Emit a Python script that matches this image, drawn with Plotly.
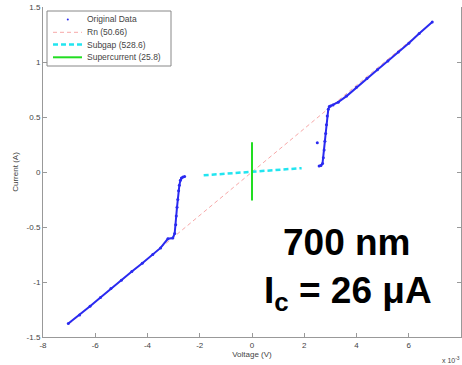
import plotly.graph_objects as go

# Voltage in units of 1e-3 V, current as displayed on axis
neg_v = [-7.03, -6.6, -6.2, -5.8, -5.4, -5.0, -4.6, -4.2, -3.8, -3.5, -3.22, -3.03,
         -2.96, -2.92, -2.9, -2.87, -2.84, -2.81, -2.78, -2.74, -2.70, -2.64, -2.58]
neg_i = [-1.378, -1.30, -1.22, -1.14, -1.06, -0.985, -0.905, -0.83, -0.75, -0.69, -0.607, -0.60,
         -0.56, -0.48, -0.40, -0.32, -0.25, -0.17, -0.12, -0.075, -0.055, -0.046, -0.042]
pos_v = [2.57, 2.64, 2.70, 2.73, 2.76, 2.79, 2.82, 2.85, 2.88, 2.92, 2.96, 3.0, 3.1,
         3.3, 3.62, 4.0, 4.4, 4.8, 5.2, 5.6, 6.0, 6.4, 6.9]
pos_i = [0.054, 0.06, 0.078, 0.13, 0.20, 0.28, 0.35, 0.43, 0.51, 0.57, 0.595, 0.60, 0.61,
         0.635, 0.69, 0.77, 0.85, 0.93, 1.01, 1.09, 1.17, 1.26, 1.363]
stray_v = [2.5]
stray_i = [0.267]

rn_v = [-7.0, 7.0]
rn_i = [-1.38, 1.38]
sub_v = [-1.85, 1.9]
sub_i = [-0.03, 0.035]
sc_v = [0.0, 0.0]
sc_i = [-0.26, 0.27]

legend_names = ["Original Data", "Rn (50.66)", "Subgap (528.6)", "Supercurrent (25.8)"]
xticks = [-8, -6, -4, -2, 0, 2, 4, 6, 8]
yticks = [-1.5, -1, -0.5, 0, 0.5, 1, 1.5]

BLUE = "#2a2af0"
PINK = "#f7a8a8"
CYAN = "#22e5f0"
GREEN = "#22dd22"
FONT = "Liberation Sans, Arial"
TXT = "#444444"
RN_DASH = "4px,3px"
SUB_DASH = "5px,3px"

fig = go.Figure()
fig.add_trace(go.Scatter(x=rn_v, y=rn_i, mode="lines", name=legend_names[1],
                         line=dict(color=PINK, width=1, dash=RN_DASH)))
for vx, iy in [(neg_v, neg_i), (pos_v, pos_i)]:
    fig.add_trace(go.Scatter(x=vx, y=iy, mode="lines", name=legend_names[0],
                             line=dict(color=BLUE, width=2), hoverinfo="skip"))
fig.add_trace(go.Scatter(x=neg_v + [None] + pos_v + [None] + stray_v,
                         y=neg_i + [None] + pos_i + [None] + stray_i,
                         mode="markers", name=legend_names[0],
                         marker=dict(color=BLUE, size=3)))
fig.add_trace(go.Scatter(x=sub_v, y=sub_i, mode="lines", name=legend_names[2],
                         line=dict(color=CYAN, width=2.5, dash=SUB_DASH)))
fig.add_trace(go.Scatter(x=sc_v, y=sc_i, mode="lines", name=legend_names[3],
                         line=dict(color=GREEN, width=2)))

axis_common = dict(showgrid=False, zeroline=False, showline=True, linecolor="#999999",
                   linewidth=1, ticks="inside", ticklen=4, tickcolor="#999999",
                   tickfont=dict(family=FONT, size=8, color=TXT))
fig.update_xaxes(range=[-8, 8], tickvals=xticks, ticktext=[str(t) for t in xticks],
                 title=dict(text="Voltage (V)", font=dict(family=FONT, size=8, color=TXT), standoff=2),
                 **axis_common)
fig.update_yaxes(range=[-1.5, 1.5], tickvals=yticks, ticktext=[("%g" % t) for t in yticks],
                 mirror="ticks",
                 title=dict(text="Current (A)", font=dict(family=FONT, size=8, color=TXT), standoff=6),
                 **axis_common)

# Manual legend (MATLAB-style compact box)
L, R, T, B = 43, 461, 7, 337
def px(x):
    return (x - L) / (R - L)
def py(y):
    return (B - y) / (B - T)

shapes = [dict(type="rect", xref="paper", yref="paper", x0=px(47), x1=px(171), y0=py(66), y1=py(11),
               line=dict(color="#888888", width=1), fillcolor="white", layer="above")]
rows = [19.5, 32.3, 44.6, 57.3]
styles = [None, dict(color=PINK, width=1, dash=RN_DASH), dict(color=CYAN, width=2.5, dash=SUB_DASH),
          dict(color=GREEN, width=2)]
for yy, st in zip(rows, styles):
    if st is None:
        shapes.append(dict(type="circle", xref="paper", yref="paper", x0=px(66.8), x1=px(68.8),
                           y0=py(yy + 1), y1=py(yy - 1), fillcolor=BLUE, line=dict(width=0), layer="above"))
    else:
        shapes.append(dict(type="line", xref="paper", yref="paper", x0=px(53), x1=px(82),
                           y0=py(yy), y1=py(yy), line=st, layer="above"))
annotations = []
for yy, name in zip(rows, legend_names):
    annotations.append(dict(x=px(85), y=py(yy), xref="paper", yref="paper", text=name, showarrow=False,
                            xanchor="left", yanchor="middle", font=dict(family=FONT, size=8.5, color=TXT)))

annotations.append(dict(x=px(440), y=py(354), xref="paper", yref="paper", text="x 10<sup>-3</sup>",
                        showarrow=False, xanchor="left", yanchor="top",
                        font=dict(family=FONT, size=7, color=TXT)))
annotations.append(dict(x=px(347), y=py(243), xref="paper", yref="paper", text="<b>700 nm</b>",
                        showarrow=False, xanchor="center", yanchor="middle",
                        font=dict(family=FONT, size=37, color="black")))
annotations.append(dict(x=px(348), y=py(293), xref="paper", yref="paper",
                        text="<b>I<sub>c</sub> = 26 μA</b>", showarrow=False,
                        xanchor="center", yanchor="middle",
                        font=dict(family=FONT, size=37, color="black")))

fig.update_layout(
    width=462, height=365, margin=dict(l=L, r=462 - R, t=T, b=365 - B),
    paper_bgcolor="white", plot_bgcolor="white",
    showlegend=False, shapes=shapes, annotations=annotations,
)

fig.write_html("out.html")
